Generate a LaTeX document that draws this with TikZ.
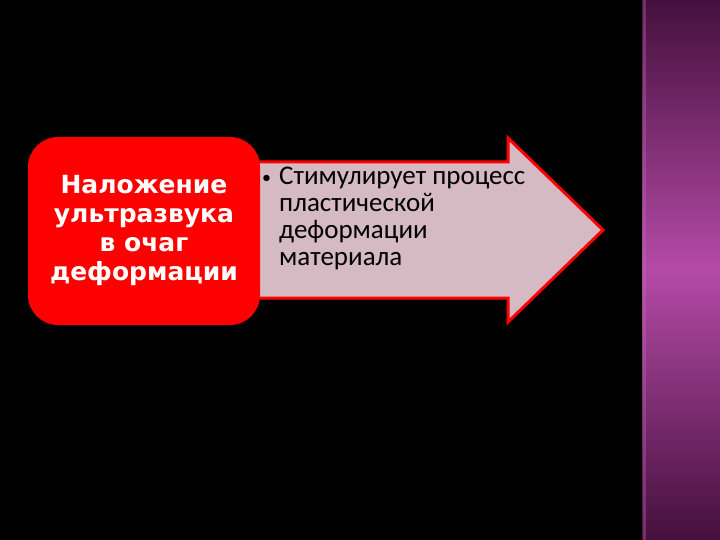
\documentclass[tikz,border=0pt]{standalone}
\usepackage{fontspec}
\setmainfont{Carlito}
\newfontfamily\boxfont{DejaVu Sans}
\usetikzlibrary{positioning,calc,shadows}

\definecolor{slidered}{HTML}{FF0000}
\definecolor{arrowfill}{HTML}{D5BAC4}
\definecolor{stripdark}{HTML}{45103D}
\definecolor{stripmid}{HTML}{B44AA6}

\tikzset{
    redbox/.style={rectangle, rounded corners=30pt, fill=slidered, draw=none,
        minimum width=232pt, minimum height=188pt, inner sep=0pt},
    boxtext/.style={text=white, align=center, font=\boxfont\bfseries\fontsize{25}{29}\selectfont},
    arrowtext/.style={text=black, align=left, anchor=north west, inner sep=0pt,
        font=\fontsize{27}{27}\selectfont}
}
\newcommand{\bulletgap}{\makebox[17pt][l]{\raisebox{1pt}{\fontsize{18}{18}\selectfont\textbullet}}}

\begin{document}
\begin{tikzpicture}[x=1pt,y=-1pt]
    \useasboundingbox (0,0) rectangle (720,540);
    \fill[black] (0,0) rectangle (720,540);
    % purple strip on the right
    \shade[top color=stripdark, bottom color=stripdark, middle color=stripmid]
        (642,0) rectangle (720,540);
    \fill[stripmid!80!white, opacity=0.35] (643,0) rectangle (646,540);

    % arrow
    \coordinate (tail) at (240,230);
    \coordinate (tip) at (603,230);
    \draw[slidered, line width=3pt, fill=arrowfill, line join=miter]
        (240,162) -- (508,162) -- (508,138) -- (tip) -- (508,322) -- (508,298)
        -- (240,298) -- cycle;

    % red box
    \node[redbox] (box) at (144,231) {};
    \node[boxtext] (boxlabel) at ([yshift=1pt]box.center) {Наложение\\ультразвука\\в очаг\\деформации};

    % bullet text
    \node[arrowtext] (effect) at (262,167) {\bulletgap Стимулирует процесс\\
        \hphantom{\bulletgap}пластической\\
        \hphantom{\bulletgap}деформации\\
        \hphantom{\bulletgap}материала};
\end{tikzpicture}
\end{document}
